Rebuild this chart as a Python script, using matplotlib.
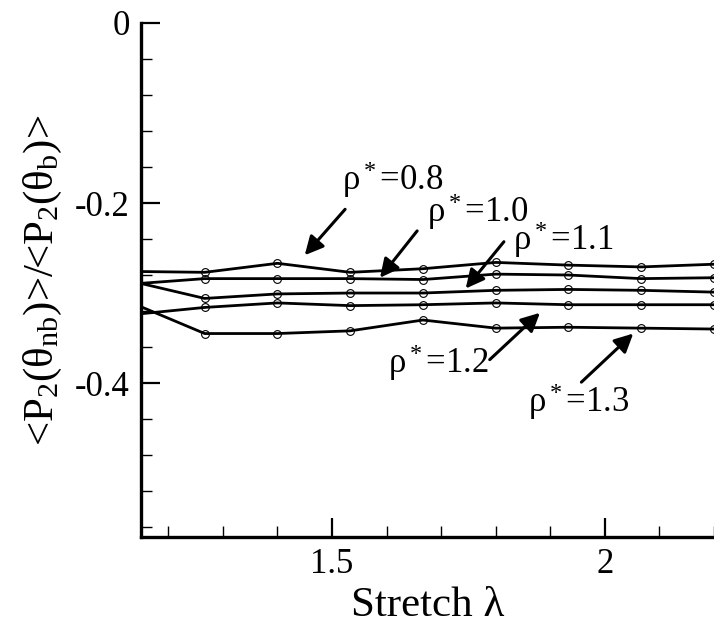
import numpy as np
import matplotlib
matplotlib.use("Agg")
import matplotlib.pyplot as plt
from matplotlib.ticker import MultipleLocator, FormatStrFormatter

plt.rcParams['font.family'] = ['Liberation Serif', 'DejaVu Serif']
plt.rcParams['mathtext.fontset'] = 'custom'
plt.rcParams['mathtext.rm'] = 'Liberation Serif'
plt.rcParams['mathtext.it'] = 'Liberation Serif:italic'
plt.rcParams['axes.unicode_minus'] = False

# Stretch values (L/L0, L0 = 15)
stretch = [17/15, 19/15, 21/15, 23/15, 25/15, 27/15, 29/15, 31/15, 33/15]

# <P2(theta_nb)>/<P2(theta_b)> for each density
rho_08 = [-0.276, -0.277, -0.267, -0.277, -0.273, -0.266, -0.269, -0.271, -0.268]
rho_10 = [-0.290, -0.284, -0.284, -0.284, -0.285, -0.279, -0.280, -0.284, -0.283]
rho_11 = [-0.287, -0.306, -0.301, -0.300, -0.300, -0.297, -0.296, -0.297, -0.299]
rho_12 = [-0.324, -0.316, -0.311, -0.314, -0.313, -0.311, -0.313, -0.313, -0.313]
rho_13 = [-0.311, -0.345, -0.345, -0.342, -0.330, -0.339, -0.338, -0.339, -0.340]

series = [rho_08, rho_10, rho_11, rho_12, rho_13]

# labels: (text, text position, arrow tail, arrow tip)
labels = ["ρ$^*$=0.8", "ρ$^*$=1.0", "ρ$^*$=1.1", "ρ$^*$=1.2", "ρ$^*$=1.3"]
text_pos = [(1.519, -0.185), (1.674, -0.221), (1.831, -0.252), (1.602, -0.389), (1.859, -0.432)]
tails = [(1.524, -0.207), (1.656, -0.231), (1.815, -0.243), (1.789, -0.374), (1.957, -0.399)]
tips = [(1.450, -0.258), (1.588, -0.283), (1.745, -0.295), (1.881, -0.322), (2.052, -0.345)]

fig = plt.figure(figsize=(7.14, 6.31), dpi=100)
ax = fig.add_axes([0.1975, 0.149, 0.8025, 0.8146])

for ys in series:
    ax.plot(stretch, ys, color='black', lw=2.0, marker='o', ms=5.6,
            mfc='none', mec='black', mew=0.8)

for lab, tp, tl, tip in zip(labels, text_pos, tails, tips):
    ax.text(tp[0], tp[1], lab, fontsize=25, ha='left', va='baseline')
    ax.annotate('', xy=tip, xytext=tl,
                arrowprops=dict(arrowstyle='-|>', lw=2.2, color='black',
                                mutation_scale=28, shrinkA=0, shrinkB=0))

ax.set_xlim(1.15, 2.2)
ax.set_ylim(-0.571, 0)

ax.xaxis.set_major_locator(MultipleLocator(0.5))
ax.xaxis.set_minor_locator(MultipleLocator(0.1))
ax.yaxis.set_major_locator(MultipleLocator(0.2))
ax.yaxis.set_minor_locator(MultipleLocator(0.04))
ax.xaxis.set_major_formatter(FormatStrFormatter('%g'))
ax.yaxis.set_major_formatter(FormatStrFormatter('%g'))

ax.tick_params(which='major', direction='in', length=14, width=1.6, labelsize=25, pad=8)
ax.tick_params(which='minor', direction='in', length=8, width=1.0)
ax.tick_params(top=False, right=False)

for s in ['top', 'right']:
    ax.spines[s].set_visible(False)
for s in ['left', 'bottom']:
    ax.spines[s].set_linewidth(2.4)

ax.set_xlabel('Stretch λ', fontsize=31, labelpad=4)
ax.set_ylabel('<P$_2$(θ$_{\\rm nb}$)>/<P$_2$(θ$_{\\rm b}$)>', fontsize=31, labelpad=8)

fig.savefig('out.png', dpi=100)
